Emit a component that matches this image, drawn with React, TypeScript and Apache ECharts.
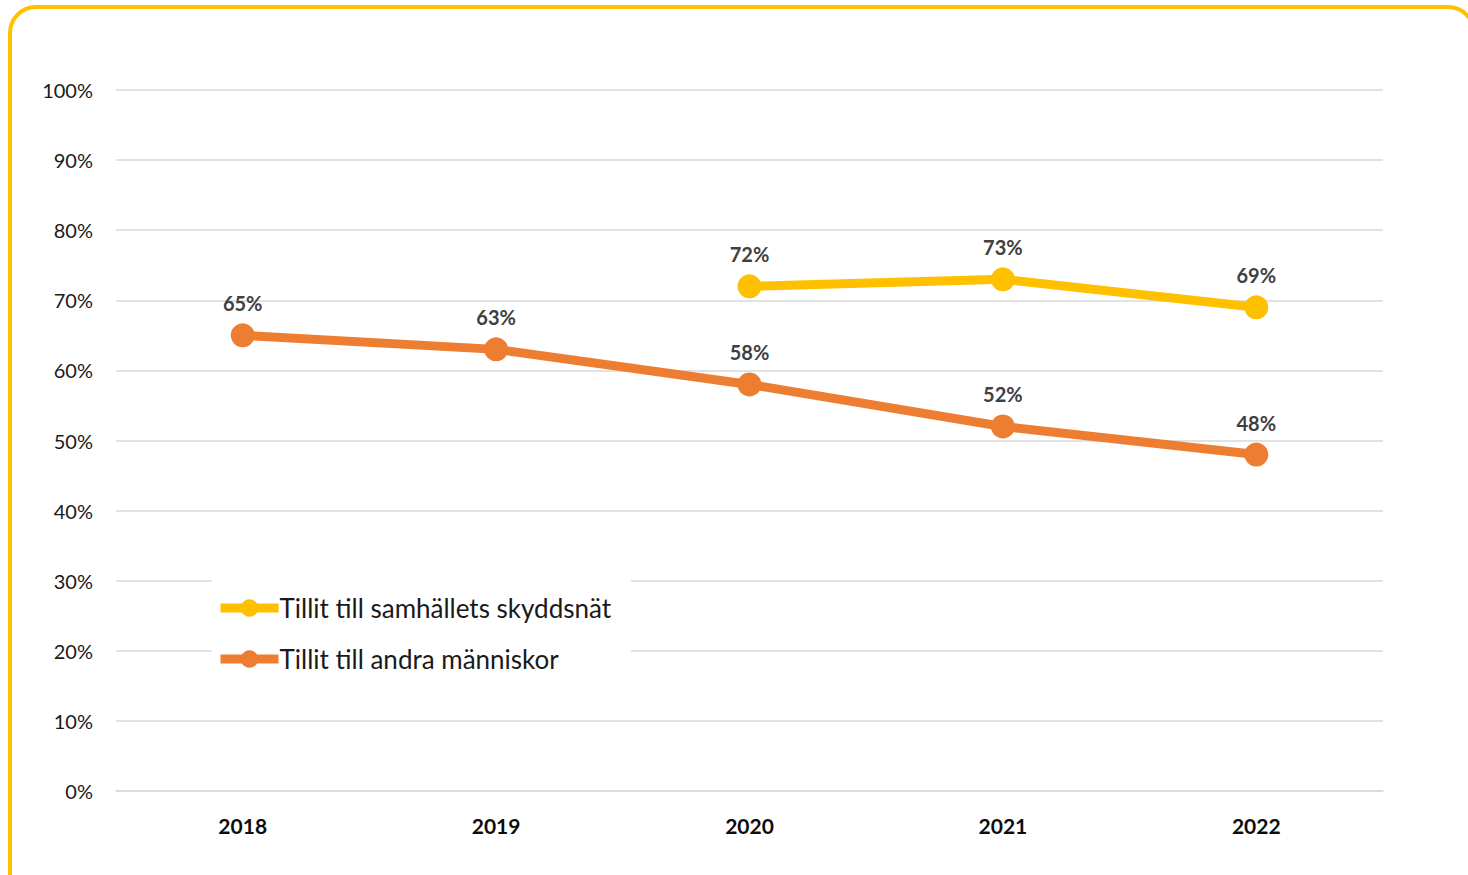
import React, { useEffect, useRef } from "react";
import * as echarts from "echarts";

const years = ["2018", "2019", "2020", "2021", "2022"];
const safetyNet: (number | null)[] = [null, null, 72, 73, 69];
const otherPeople: number[] = [65, 63, 58, 52, 48];
const seriesNames = ["Tillit till samhällets skyddsnät", "Tillit till andra människor"];

const FONT = "Lato, 'Open Sans', sans-serif";

export default function App() {
  const ref = useRef<HTMLDivElement>(null);
  useEffect(() => {
    document.body.style.margin = "0";
    const chart = echarts.init(ref.current!, null, { renderer: "svg" });
    const labelCfg = {
      show: true,
      position: "top" as const,
      distance: 10,
      formatter: "{c}%",
      fontFamily: FONT,
      fontWeight: "bold" as const,
      fontSize: 20,
      color: "#404040",
    };
    chart.setOption({
      animation: false,
      backgroundColor: "#fff",
      graphic: [
        {
          type: "rect",
          shape: { x: 10, y: 7, width: 1464, height: 900, r: 26 },
          style: { fill: "none", stroke: "#FFC000", lineWidth: 4 },
          z: 100,
        },
      ],
      grid: { left: 116, right: 85, top: 90, bottom: 84 },
      legend: {
        orient: "vertical",
        left: 212,
        top: 574,
        padding: [21, 20, 16, 4],
        backgroundColor: "#fff",
        itemWidth: 58,
        itemHeight: 22,
        itemGap: 25,
        lineStyle: { width: 9 },
        textStyle: { fontFamily: FONT, fontSize: 26, color: "#1a1a1a", padding: [0, 0, 0, -4] },
        data: seriesNames,
      },
      xAxis: {
        type: "category",
        data: years,
        boundaryGap: true,
        axisLine: { show: true, lineStyle: { color: "#d9d9d9", width: 1.5 } },
        axisTick: { show: false },
        axisLabel: { fontFamily: FONT, fontWeight: "bold", fontSize: 21, color: "#0d0d0d", margin: 24 },
      },
      yAxis: {
        type: "value",
        min: 0,
        max: 100,
        interval: 10,
        axisLine: { show: false },
        axisTick: { show: false },
        splitLine: { lineStyle: { color: "#d9d9d9", width: 1.5 } },
        axisLabel: { formatter: "{value}%", fontFamily: FONT, fontSize: 20, color: "#1a1a1a", margin: 23 },
      },
      series: [
        {
          name: seriesNames[0],
          type: "line",
          data: safetyNet,
          symbol: "circle",
          symbolSize: 24,
          color: "#FFC000",
          lineStyle: { width: 9, color: "#FFC000" },
          itemStyle: { color: "#FFC000" },
          label: labelCfg,
          z: 3,
        },
        {
          name: seriesNames[1],
          type: "line",
          data: otherPeople,
          symbol: "circle",
          symbolSize: 24,
          color: "#ED7D31",
          lineStyle: { width: 9, color: "#ED7D31" },
          itemStyle: { color: "#ED7D31" },
          label: labelCfg,
          z: 2,
        },
      ],
    });
    return () => chart.dispose();
  }, []);
  return <div ref={ref} style={{ width: 1468, height: 875, position: "absolute", left: 0, top: 0 }} />;
}
